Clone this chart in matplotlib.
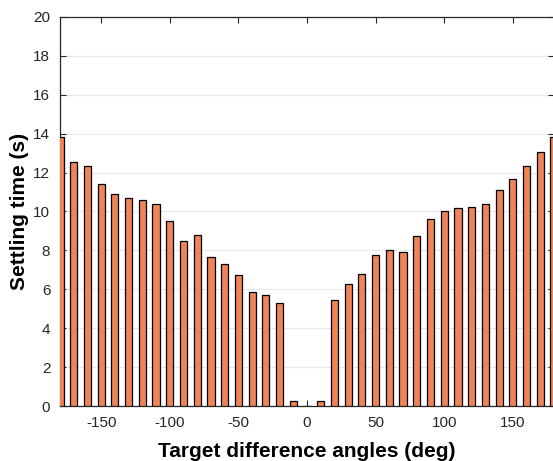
import numpy as np
import matplotlib
matplotlib.use("Agg")
import matplotlib.pyplot as plt

# Kąty docelowe (deg) i odczytane czasy ustalania (s)
katy = list(range(-180, 181, 10))
czasy = [13.85, 12.54, 12.34, 11.43, 10.91, 10.67, 10.58, 10.36, 9.50,
         8.47, 8.81, 7.66, 7.29, 6.75, 5.86, 5.72, 5.29, 0.26, 0.0,
         0.26, 5.43, 6.27, 6.79, 7.78, 8.02, 7.90, 8.76, 9.60, 10.02,
         10.17, 10.22, 10.38, 11.13, 11.68, 12.35, 13.06, 13.85]

xticki = [-150, -100, -50, 0, 50, 100, 150]
yticki = list(range(0, 21, 2))

plt.rcParams['font.family'] = ['Liberation Sans', 'DejaVu Sans']
plt.rcParams['axes.unicode_minus'] = False

fig = plt.figure(figsize=(5.53, 4.61), dpi=100)
ax = fig.add_axes([60 / 553, 1 - 406 / 461, 494 / 553, 389 / 461])

ax.bar(katy, czasy, width=5.2, color='#F08459', edgecolor='black', linewidth=0.9, zorder=3)

ax.set_xlim(-180, 180)
ax.set_ylim(0, 20)
ax.set_xticks(xticki)
ax.set_yticks(yticki)
ax.tick_params(direction='in', top=True, right=True, labelsize=11, length=4,
               width=0.8, colors='#262626', pad=7)
ax.grid(axis='y', color='#e8e8e8', linewidth=0.8, zorder=0)
for s in ax.spines.values():
    s.set_linewidth(0.9)
    s.set_color('#262626')

ax.set_xlabel("Target difference angles (deg)", fontsize=15, fontweight='bold', labelpad=9)
ax.set_ylabel("Settling time (s)", fontsize=15, fontweight='bold', labelpad=3)

plt.savefig("out.png", dpi=100)
plt.close()
